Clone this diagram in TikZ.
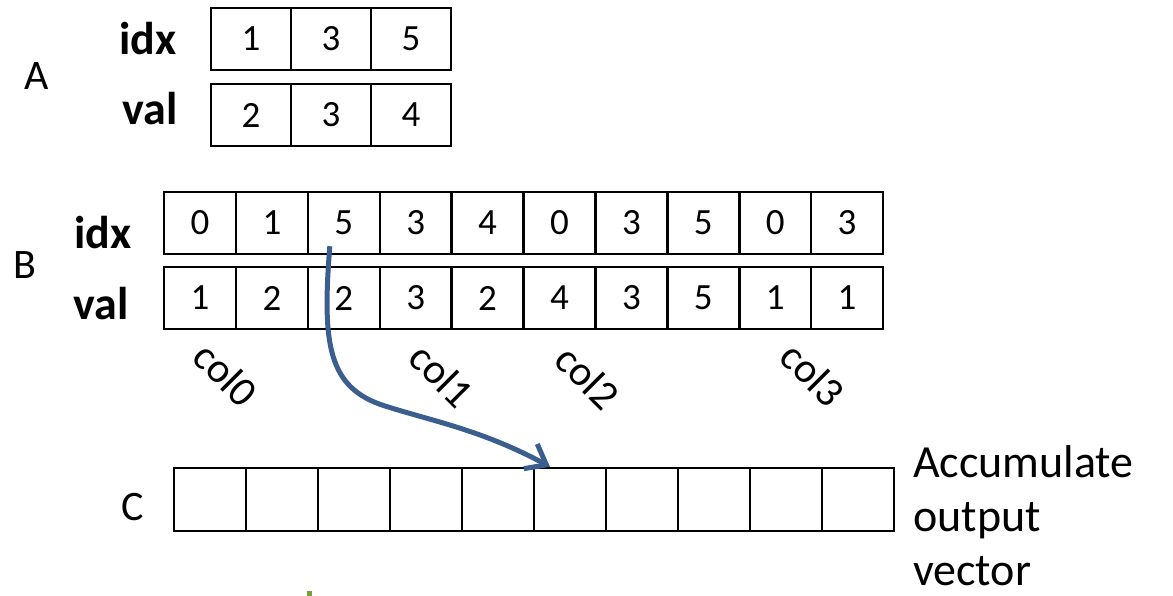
\documentclass[tikz,border=0pt]{standalone}
\usepackage{fontspec}
\setmainfont{Carlito}
\usetikzlibrary{arrows.meta,calc}
\definecolor{arrowblue}{HTML}{3A5F8F}
\definecolor{markgreen}{HTML}{77A03C}

\begin{document}
\begin{tikzpicture}[x=1pt,y=-1pt,
  cell/.style={draw,line width=2.4pt,minimum height=62pt,inner sep=0pt,
    anchor=center,font=\fontsize{37}{37}\selectfont},
  cellA/.style={cell,minimum width=80pt},
  cellB/.style={cell,minimum width=72pt},
  cellC/.style={cell,minimum width=72pt,minimum height=63pt},
  rowlab/.style={anchor=base,inner sep=0pt,font=\fontsize{46}{46}\selectfont\bfseries},
  arrname/.style={anchor=base,inner sep=0pt,font=\fontsize{42}{42}\selectfont},
  collab/.style={rotate=-45,inner sep=0pt,anchor=center,font=\fontsize{42}{42}\selectfont},
  flow/.style={draw=arrowblue,line width=5pt,-{Straight Barb[length=18pt,width=28pt]}}]

\useasboundingbox (0,0) rectangle (1173,596);

% sparse vector A
\node[arrname] (A) at (37,90) {A};
\node[rowlab] (Aidx) at (148,55) {idx};
\node[rowlab] (Aval) at (150,125) {val};
\foreach \v [count=\i from 0] in {1,3,5}
  \node[cellA] (ai\i) at (251+80*\i,39) {\v};
\foreach \v [count=\i from 0] in {2,3,4}
  \node[cellA] (av\i) at (251+80*\i,115) {\v};

% sparse matrix B, stored by columns
\node[arrname] (B) at (25,278) {B};
\node[rowlab] (Bidx) at (103,249) {idx};
\node[rowlab] (Bval) at (101,319) {val};
\foreach \v [count=\i from 0] in {0,1,5,3,4,0,3,5,0,3}
  \node[cellB] (bi\i) at (200+71.9*\i,223) {\v};
\foreach \v [count=\i from 0] in {1,2,2,3,2,4,3,5,1,1}
  \node[cellB] (bv\i) at (200+71.9*\i,298) {\v};

% column labels
\node[collab] (col0) at (226,374) {col0};
\node[collab] (col1) at (442,375) {col1};
\node[collab] (col2) at (588,377) {col2};
\node[collab] (col3) at (813,374) {col3};

% dense accumulator C
\node[arrname] (C) at (133,520) {C};
\foreach \i in {0,...,9}
  \node[cellC] (c\i) at (210+72*\i,499.5) {};
\node[anchor=north west,align=left,inner sep=0pt,
  font=\fontsize{46}{54}\selectfont] (note) at (913,445) {Accumulate\\output\\vector};

% scatter of one B entry into C
\coordinate (src) at ($(bi2.south)+(-14,-9)$);
\coordinate (dst) at ($(c5.north)+(-20,0)$);
\draw[flow] (src) .. controls (322,345) and (328,388) .. (385,406)
  .. controls (432,421) and (482,430) .. (dst);

% small mark at the lower edge
\fill[markgreen] (306.5,591) rectangle (312,596);
\end{tikzpicture}
\end{document}
